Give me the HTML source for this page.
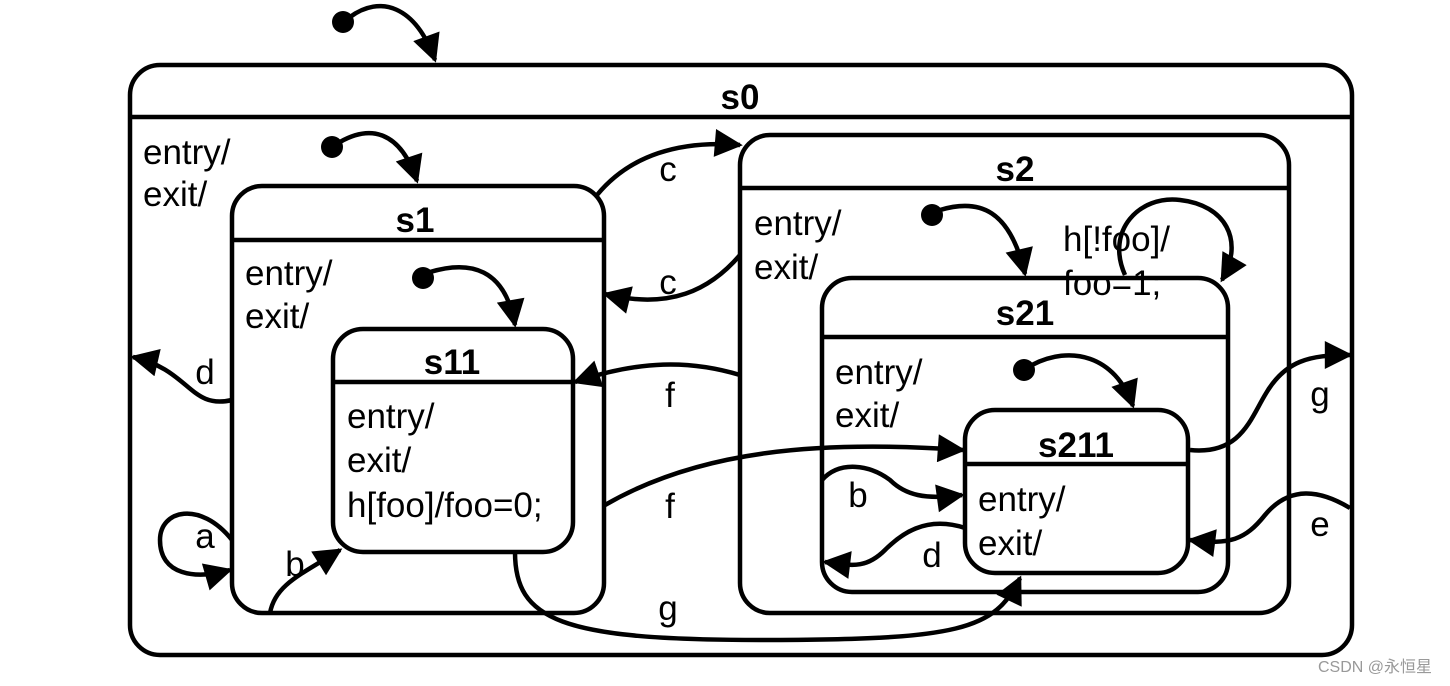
<!DOCTYPE html>
<html><head><meta charset="utf-8"><style>
html,body{margin:0;padding:0;background:#fff;}
svg{display:block;}
text{font-family:"Liberation Sans",Arial,sans-serif;fill:#000;}
.t{font-size:35px;}
.b{font-size:35px;font-weight:bold;}
</style></head><body>
<svg width="1450" height="686" viewBox="0 0 1450 686" xmlns="http://www.w3.org/2000/svg">
<defs>
<marker id="ah" viewBox="0 0 10 10" markerUnits="userSpaceOnUse" markerWidth="36" markerHeight="28" refX="9" refY="5" orient="auto">
<path d="M0,0 L10,5 L0,10 z" fill="#000"/>
</marker>
</defs>
<g fill="none" stroke="#000" stroke-width="4.5">
<rect x="130" y="65" width="1222" height="590" rx="30"/>
<line x1="130" y1="117" x2="1352" y2="117"/>
<rect x="232" y="186" width="372" height="427" rx="30"/>
<line x1="232" y1="240" x2="604" y2="240"/>
<rect x="333" y="329" width="240" height="223" rx="30"/>
<line x1="333" y1="382" x2="573" y2="382"/>
<rect x="740" y="135" width="549" height="478" rx="30"/>
<line x1="740" y1="188" x2="1289" y2="188"/>
<rect x="822" y="278" width="406" height="314" rx="30"/>
<line x1="822" y1="337" x2="1228" y2="337"/>
<rect x="965" y="410" width="223" height="163" rx="30"/>
<line x1="965" y1="464" x2="1188" y2="464"/>
</g>
<g fill="#000">
<circle cx="343" cy="22" r="11"/>
<circle cx="332" cy="147" r="11"/>
<circle cx="423" cy="278" r="11"/>
<circle cx="932" cy="215" r="11"/>
<circle cx="1024" cy="370" r="11"/>
</g>
<g fill="none" stroke="#000" stroke-width="4.5" marker-end="url(#ah)">
<path d="M350,17 C380,-5 415,5 435,60"/>
<path d="M340,142 C370,125 400,130 417,181"/>
<path d="M430,272 C470,260 505,268 515,325"/>
<path d="M940,210 C980,198 1010,210 1025,274"/>
<path d="M1032,365 C1070,345 1115,355 1133,406"/>
<path d="M1125,275 C1105,230 1140,195 1180,200 C1225,205 1245,240 1222,280"/>
<path d="M597,195 C630,155 680,140 740,145"/>
<path d="M740,255 C710,290 670,310 605,294"/>
<path d="M232,400 C190,410 190,370 133,357"/>
<path d="M232,540 C200,500 160,510 160,540 C160,575 195,580 230,570"/>
<path d="M270,613 C275,585 300,575 340,550"/>
<path d="M740,375 C690,360 640,360 575,382"/>
<path d="M605,505 C700,450 820,440 963,450"/>
<path d="M515,552 C515,620 560,640 760,640 C960,640 995,630 1020,578"/>
<path d="M1190,450 C1240,455 1250,420 1265,395 C1285,360 1310,355 1350,355"/>
<path d="M1350,508 C1320,490 1290,485 1265,515 C1245,540 1230,545 1190,540"/>
<path d="M822,480 C840,460 870,465 890,480 C905,495 925,500 962,495"/>
<path d="M965,528 C925,515 900,535 885,550 C865,570 850,565 825,562"/>
</g>
<g>
<text class="b" x="740" y="109" text-anchor="middle">s0</text>
<text class="b" x="415" y="232" text-anchor="middle">s1</text>
<text class="b" x="452" y="374" text-anchor="middle">s11</text>
<text class="b" x="1015" y="181" text-anchor="middle">s2</text>
<text class="b" x="1025" y="325" text-anchor="middle">s21</text>
<text class="b" x="1076" y="457" text-anchor="middle">s211</text>
<text class="t" x="143" y="164">entry/</text>
<text class="t" x="143" y="206">exit/</text>
<text class="t" x="245" y="285">entry/</text>
<text class="t" x="245" y="328">exit/</text>
<text class="t" x="347" y="428">entry/</text>
<text class="t" x="347" y="472">exit/</text>
<text class="t" x="347" y="517">h[foo]/foo=0;</text>
<text class="t" x="754" y="235">entry/</text>
<text class="t" x="754" y="279">exit/</text>
<text class="t" x="1063" y="251">h[!foo]/</text>
<text class="t" x="1063" y="295">foo=1;</text>
<text class="t" x="835" y="384">entry/</text>
<text class="t" x="835" y="427">exit/</text>
<text class="t" x="978" y="511">entry/</text>
<text class="t" x="978" y="555">exit/</text>
<text class="t" x="668" y="181" text-anchor="middle">c</text>
<text class="t" x="668" y="294" text-anchor="middle">c</text>
<text class="t" x="205" y="384" text-anchor="middle">d</text>
<text class="t" x="205" y="548" text-anchor="middle">a</text>
<text class="t" x="295" y="576" text-anchor="middle">b</text>
<text class="t" x="670" y="407" text-anchor="middle">f</text>
<text class="t" x="670" y="518" text-anchor="middle">f</text>
<text class="t" x="668" y="620" text-anchor="middle">g</text>
<text class="t" x="1320" y="406" text-anchor="middle">g</text>
<text class="t" x="1320" y="536" text-anchor="middle">e</text>
<text class="t" x="858" y="507" text-anchor="middle">b</text>
<text class="t" x="932" y="567" text-anchor="middle">d</text>
<text x="1432" y="672" text-anchor="end" style="font-size:16px;fill:#999;font-family:'Liberation Sans','Noto Sans CJK SC',sans-serif;">CSDN @永恒星</text>
</g>
</svg>
</body></html>
